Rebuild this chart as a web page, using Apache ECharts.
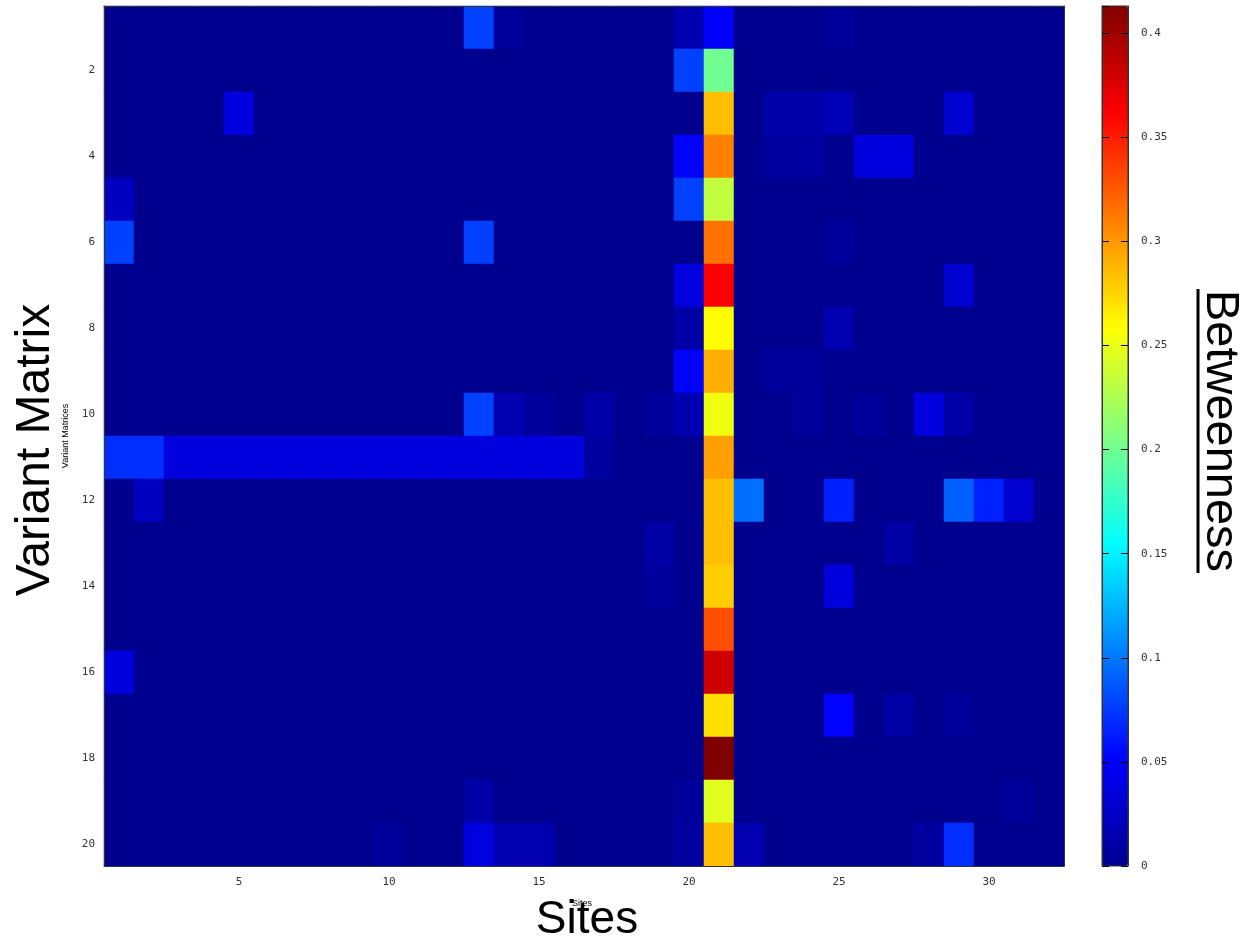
<!DOCTYPE html>
<html>
<head>
<meta charset="utf-8">
<script src="https://cdn.jsdelivr.net/npm/echarts@6/dist/echarts.min.js"></script>
<style>
  html, body { margin: 0; padding: 0; background: #fff; }
  #chart { width: 1244px; height: 942px; }
</style>
</head>
<body>
<div id="chart"></div>
<script>
// 站点 1..32, 变体矩阵 1..20
const sites = ['1','2','3','4','5','6','7','8','9','10','11','12','13','14','15','16',
  '17','18','19','20','21','22','23','24','25','26','27','28','29','30','31','32']
const matrices = ['1','2','3','4','5','6','7','8','9','10','11','12','13','14','15','16','17','18','19','20']
const colorTicks = [0, 0.05, 0.1, 0.15, 0.2, 0.25, 0.3, 0.35, 0.4]
const betweennessMax = 0.413

// betweenness, one row per variant matrix, one value per site
const betweenness = [
  [0,0,0,0,0,0,0,0,0,0,0,0,0.078,0.005,0,0,0,0,0,0.015,0.05,0,0,0,0.005,0,0,0,0,0,0,0],
  [0,0,0,0,0,0,0,0,0,0,0,0,0,0,0,0,0,0,0,0.078,0.2,0,0,0,0,0,0,0,0,0,0,0],
  [0,0,0,0,0.037,0,0,0,0,0,0,0,0,0,0,0,0,0,0,0,0.284,0,0.012,0.012,0.018,0,0,0,0.03,0,0,0],
  [0,0,0,0,0,0,0,0,0,0,0,0,0,0,0,0,0,0,0,0.052,0.31,0,0.008,0.008,0,0.037,0.037,0,0,0,0,0],
  [0.023,0,0,0,0,0,0,0,0,0,0,0,0,0,0,0,0,0,0,0.078,0.233,0,0,0,0,0,0,0,0,0,0,0],
  [0.078,0,0,0,0,0,0,0,0,0,0,0,0.078,0,0,0,0,0,0,0,0.316,0,0,0,0.005,0,0,0,0,0,0,0],
  [0,0,0,0,0,0,0,0,0,0,0,0,0,0,0,0,0,0,0,0.037,0.362,0,0,0,0,0,0,0,0.03,0,0,0],
  [0,0,0,0,0,0,0,0,0,0,0,0,0,0,0,0,0,0,0,0.011,0.258,0,0,0,0.015,0,0,0,0,0,0,0],
  [0,0,0,0,0,0,0,0,0,0,0,0,0,0,0,0,0,0,0,0.052,0.291,0,0.005,0.005,0,0,0,0,0,0,0,0],
  [0,0,0,0,0,0,0,0,0,0,0,0,0.078,0.015,0.006,0,0.011,0,0.006,0.015,0.252,0,0,0.006,0,0.005,0,0.037,0.011,0,0,0],
  [0.07,0.07,0.037,0.037,0.037,0.037,0.037,0.037,0.037,0.037,0.037,0.037,0.037,0.037,0.037,0.037,0.008,0,0,0,0.297,0,0,0,0,0,0,0,0,0,0,0],
  [0,0.023,0,0,0,0,0,0,0,0,0,0,0,0,0,0,0,0,0,0,0.284,0.097,0,0,0.065,0,0,0,0.09,0.065,0.03,0],
  [0,0,0,0,0,0,0,0,0,0,0,0,0,0,0,0,0,0,0.011,0,0.284,0,0,0,0,0,0.011,0,0,0,0,0],
  [0,0,0,0,0,0,0,0,0,0,0,0,0,0,0,0,0,0,0.006,0,0.278,0,0,0,0.037,0,0,0,0,0,0,0],
  [0,0,0,0,0,0,0,0,0,0,0,0,0,0,0,0,0,0,0,0,0.33,0,0,0,0,0,0,0,0,0,0,0],
  [0.037,0,0,0,0,0,0,0,0,0,0,0,0,0,0,0,0,0,0,0,0.381,0,0,0,0,0,0,0,0,0,0,0],
  [0,0,0,0,0,0,0,0,0,0,0,0,0,0,0,0,0,0,0,0,0.271,0,0,0,0.052,0,0.011,0,0.006,0,0,0],
  [0,0,0,0,0,0,0,0,0,0,0,0,0,0,0,0,0,0,0,0,0.413,0,0,0,0,0,0,0,0,0,0,0],
  [0,0,0,0,0,0,0,0,0,0,0,0,0.011,0,0,0,0,0,0,0.005,0.246,0,0,0,0,0,0,0,0,0,0.005,0],
  [0,0,0,0,0,0,0,0,0,0.005,0,0,0.037,0.015,0.015,0,0,0,0,0.008,0.284,0.015,0,0,0,0,0,0.008,0.07,0,0,0]
]

// jet 色表
const jet = ['#00008f', '#0000ff', '#0080ff', '#00ffff', '#80ff80', '#ffff00', '#ff8000', '#ff0000', '#800000']

const heatData = []
betweenness.forEach((row, i) => {
  row.forEach((v, j) => {
    heatData.push([j, i, v])
  })
})

const tickFont = {fontFamily: 'DejaVu Sans Mono', fontSize: 11, color: '#333'}
const everyFifth = (index) => (index + 1) % 5 === 0
const everySecond = (index) => (index + 1) % 2 === 0

const myChart = echarts.init(document.getElementById('chart'))
myChart.setOption({
  animation: false,
  grid: [
    {left: 104, top: 6, width: 960, height: 860},
    {left: 1102, top: 6, width: 26, height: 860}
  ],
  xAxis: [
    {
      type: 'category', data: sites, gridIndex: 0, position: 'bottom',
      axisLine: {lineStyle: {color: '#333', width: 1}},
      axisTick: {inside: true, length: 9, alignWithLabel: true, interval: everyFifth, lineStyle: {color: '#000'}},
      axisLabel: Object.assign({interval: everyFifth, margin: 11}, tickFont),
      splitLine: {show: false}, z: 10
    },
    {
      type: 'category', data: sites, gridIndex: 0, position: 'top',
      axisLine: {lineStyle: {color: '#333', width: 1}},
      axisTick: {inside: true, length: 9, alignWithLabel: true, interval: everyFifth, lineStyle: {color: '#000'}},
      axisLabel: {show: false}, z: 10
    },
    {type: 'category', data: ['bar'], gridIndex: 1, show: false}
  ],
  yAxis: [
    {
      type: 'category', data: matrices, gridIndex: 0, inverse: true, position: 'left',
      axisLine: {lineStyle: {color: '#333', width: 1}},
      axisTick: {inside: true, length: 9, alignWithLabel: true, interval: everySecond, lineStyle: {color: '#000'}},
      axisLabel: Object.assign({interval: everySecond, margin: 9}, tickFont),
      splitLine: {show: false}, z: 10
    },
    {
      type: 'category', data: matrices, gridIndex: 0, inverse: true, position: 'right',
      axisLine: {lineStyle: {color: '#333', width: 1}},
      axisTick: {inside: true, length: 9, alignWithLabel: true, interval: everySecond, lineStyle: {color: '#000'}},
      axisLabel: {show: false}, z: 10
    },
    {
      type: 'value', gridIndex: 1, position: 'right', min: 0, max: betweennessMax, interval: 0.05,
      axisLine: {show: true, onZero: false, lineStyle: {color: '#333'}},
      axisTick: {show: true, inside: true, length: 7, lineStyle: {color: '#000'}},
      axisLabel: Object.assign({margin: 13, showMaxLabel: false,
        formatter: (v) => colorTicks.indexOf(+v.toFixed(2)) >= 0 ? String(+v.toFixed(2)) : ''}, tickFont),
      splitLine: {show: false}, zlevel: 1
    },
    {
      type: 'value', gridIndex: 1, position: 'left', min: 0, max: betweennessMax, interval: 0.05,
      axisLine: {show: true, onZero: false, lineStyle: {color: '#333'}},
      axisTick: {show: true, inside: true, length: 7, lineStyle: {color: '#000'}},
      axisLabel: {show: false},
      splitLine: {show: false}, zlevel: 1
    }
  ],
  visualMap: {
    type: 'continuous',
    min: 0, max: betweennessMax,
    calculable: false,
    seriesIndex: 0,
    left: 1102, top: 6,
    padding: 0,
    itemWidth: 26, itemHeight: 860,
    text: null,
    z: 1,
    inRange: {color: jet}
  },
  series: [{
    type: 'heatmap',
    xAxisIndex: 0, yAxisIndex: 0,
    data: heatData,
    emphasis: {disabled: true},
    progressive: 0
  }],
  graphic: [
    {
      type: 'rect', zlevel: 1, silent: true,
      shape: {x: 1102, y: 6, width: 26, height: 860},
      style: {fill: 'none', stroke: '#333', lineWidth: 1}
    },
    {
      type: 'text', x: 36, y: 450, rotation: Math.PI / 2, z: 100,
      style: {text: 'Variant Matrix', font: '48px "Liberation Sans"', fill: '#000', align: 'center', verticalAlign: 'middle'}
    },
    {
      type: 'text', x: 66, y: 436, rotation: Math.PI / 2, z: 100,
      style: {text: 'Variant Matrices', font: '9px "Liberation Sans"', fill: '#000', align: 'center', verticalAlign: 'middle'}
    },
    {
      type: 'text', x: 587, y: 920, z: 100,
      style: {text: 'Sites', font: '46px "Liberation Sans"', fill: '#000', align: 'center', verticalAlign: 'middle'}
    },
    {
      type: 'text', x: 582, y: 904, z: 101,
      style: {text: 'Sites', font: '9px "Liberation Sans"', fill: '#000', align: 'center', verticalAlign: 'middle'}
    },
    {
      type: 'text', x: 1220, y: 431, rotation: -Math.PI / 2, z: 100,
      style: {text: 'Betweenness', font: '47px "Liberation Sans"', fill: '#000', align: 'center', verticalAlign: 'middle'}
    },
    {
      type: 'line', z: 100, silent: true,
      shape: {x1: 1198, y1: 289, x2: 1198, y2: 573},
      style: {stroke: '#000', lineWidth: 3}
    }
  ]
})
</script>
</body>
</html>
